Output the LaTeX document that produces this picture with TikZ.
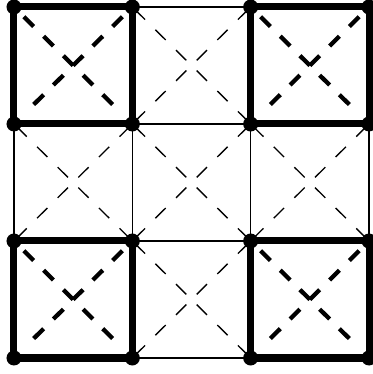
\documentclass[tikz,border=0pt]{standalone}

\tikzset{
  gridline/.style={line width=1pt},
  thindiag/.style={line width=1pt, dash pattern=on 10.875pt off 10.875pt, dash phase=19.16pt},
  thickdiag/.style={line width=3.2pt, dash pattern=on 10.4pt off 10.4pt, dash phase=10.4pt, shorten >=15pt},
  boxline/.style={line width=5.25pt, line join=round},
  gdot/.style={circle, fill=black, inner sep=0pt, minimum size=11.25pt}
}

\begin{document}
\begin{tikzpicture}[x=88.75pt, y=-87.75pt]

  \useasboundingbox (-0.1183,-0.0598) rectangle (3.0254,3.1368);

  % ---- grid points ----
  \foreach \i in {0,...,3}
    \foreach \j in {0,...,3}
      \coordinate (p\i\j) at (\i,\j);

  % ---- thin grid ----
  \foreach \k in {0,...,3} {
    \draw[gridline] (p\k0) -- (p\k3);
    \draw[gridline] (p0\k) -- (p3\k);
  }

  % ---- thin crosses ----
  \foreach \i/\j [evaluate=\i as \ii using int(\i+1), evaluate=\j as \jj using int(\j+1)] in {1/0,0/1,1/1,2/1,1/2} {
    \draw[thindiag] (p\i\j) -- (p\ii\jj);
    \draw[thindiag] (p\ii\j) -- (p\i\jj);
  }

  % ---- corner squares ----
  \foreach \i/\j [evaluate=\i as \ii using int(\i+1), evaluate=\j as \jj using int(\j+1)] in {0/0,2/0,0/2,2/2} {
    \draw[thickdiag] (p\i\j) -- (p\ii\jj);
    \draw[thickdiag] (p\ii\j) -- (p\i\jj);
    \draw[boxline] (p\i\j) rectangle (p\ii\jj);
  }

  % ---- dots ----
  \foreach \i in {0,...,3}
    \foreach \j in {0,...,3}
      \node[gdot] (d\i\j) at (p\i\j) {};

\end{tikzpicture}
\end{document}
